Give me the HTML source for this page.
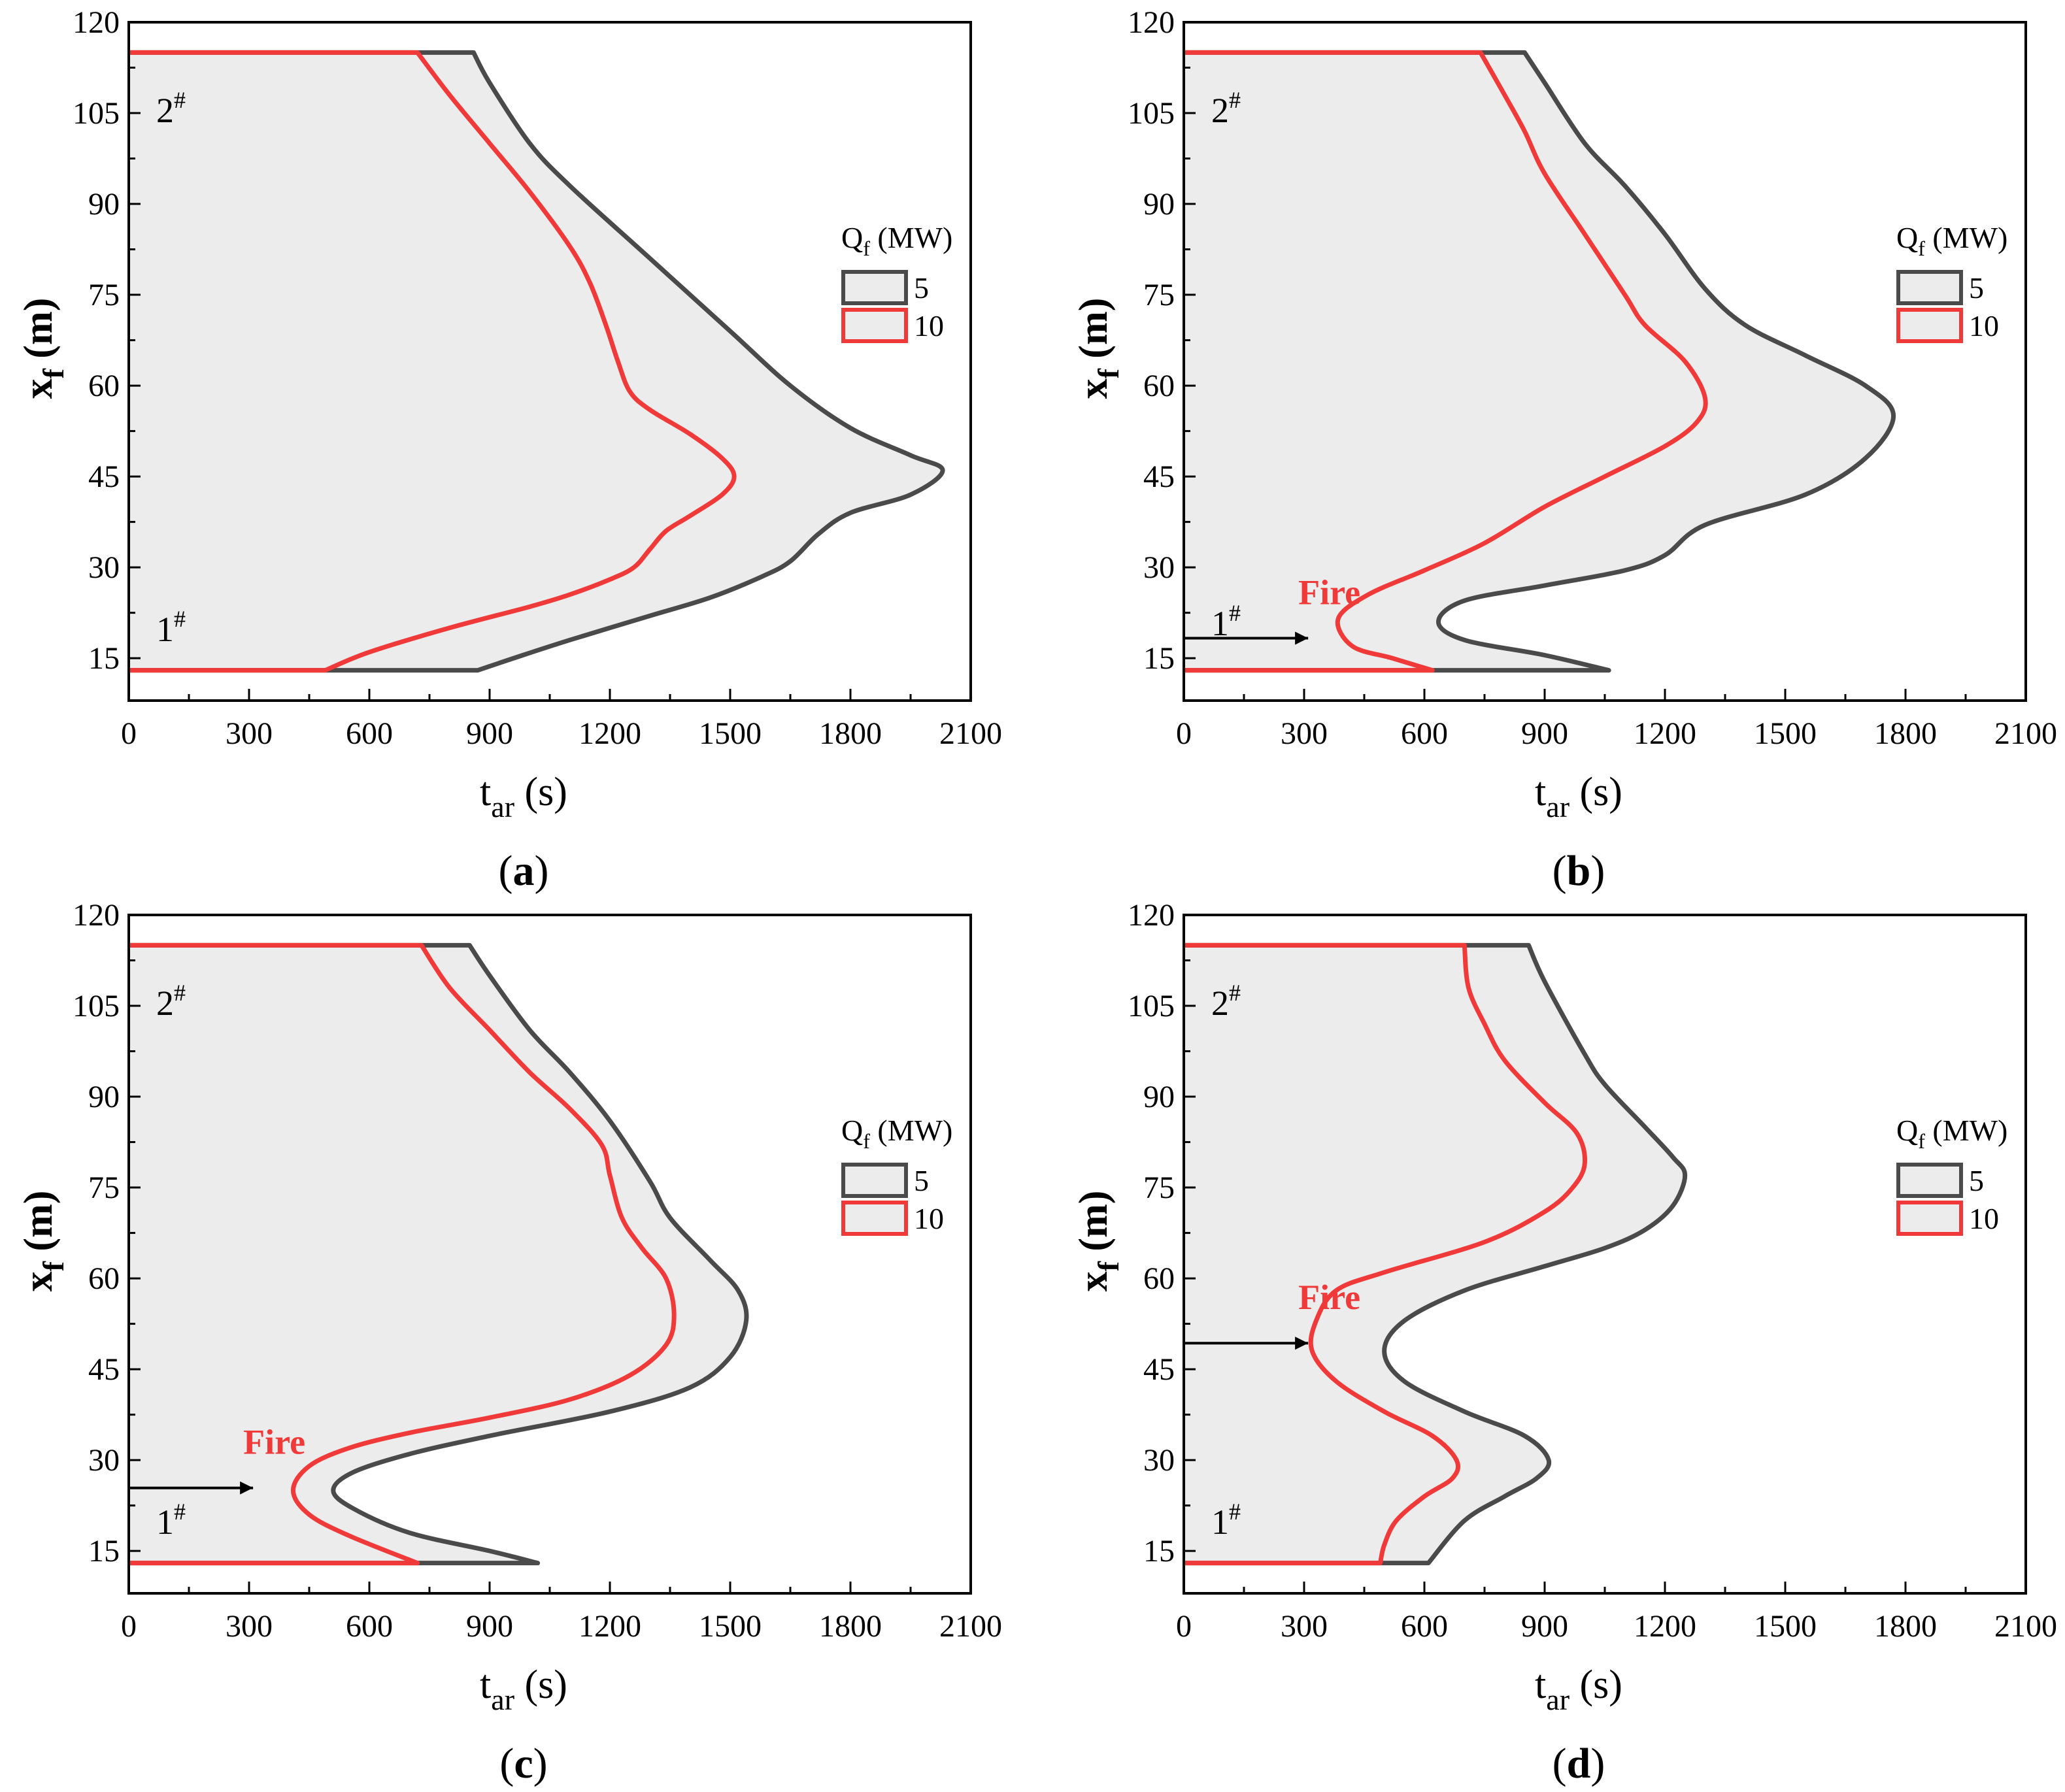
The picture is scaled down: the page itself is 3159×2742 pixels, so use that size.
<!DOCTYPE html>
<html><head><meta charset="utf-8"><style>
html,body{margin:0;padding:0;background:#fff}
svg{display:block}
</style></head><body>
<svg id="fig" width="3159" height="2742" viewBox="0 0 3159 2742" xmlns="http://www.w3.org/2000/svg" font-family="'Liberation Serif', 'DejaVu Serif', serif">
</svg>
<script>
// ---- data ----
const xTicks=[0,300,600,900,1200,1500,1800,2100];
const yTicks=[15,30,45,60,75,90,105,120];
const panelLabels=["a","b","c","d"];
const seriesLabels=["5","10"];
const a5=[[0,115],[860,115],[900,110],[1000,100],[1100,93],[1300,81],[1500,69],[1650,60],[1800,53],[1950,48.5],[2030,46],[1950,42],[1800,39],[1720,35.5],[1650,31],[1580,28.5],[1450,25],[1300,22],[1100,18],[960,15],[870,13],[0,13]];
const a10=[[0,115],[720,115],[800,108],[900,100],[1000,92],[1100,83],[1150,77],[1190,70],[1220,64],[1250,59],[1300,56],[1400,52],[1480,48],[1510,45],[1480,42],[1400,38.5],[1340,36],[1300,33],[1260,30],[1200,28],[1100,25.5],[1000,23.5],[800,20],[600,16],[490,13],[0,13]];
const b5=[[0,115],[850,115],[900,110],[1000,100],[1100,93],[1200,85],[1300,76],[1400,70],[1550,65],[1700,60],[1770,55],[1700,48],[1550,42],[1300,37],[1200,32],[1100,29.5],[900,27],[700,24.5],[635,21],[700,18],[900,15.5],[1060,13],[0,13]];
const b10=[[0,115],[740,115],[800,108],[850,102],[900,95],[1000,85],[1100,75],[1150,70],[1250,64],[1300,58],[1280,54],[1200,50],[1050,45],[900,40],[750,34],[600,29.5],[460,25.5],[385,21.5],[420,17],[520,15],[620,13],[0,13]];
const c5=[[0,115],[850,115],[900,110],[1000,101],[1100,94],[1200,86],[1300,76],[1350,70],[1450,63],[1520,58],[1540,53],[1500,47],[1400,42],[1200,38],[900,34],[700,31],[560,28],[510,25],[560,22],[700,18],[900,15],[1020,13],[0,13]];
const c10=[[0,115],[730,115],[800,108],[900,101],[1000,94],[1100,88],[1180,82],[1200,77],[1230,70],[1280,65],[1340,60],[1360,54],[1340,49],[1250,44],[1100,40],[900,37],[700,34.5],[550,32],[450,29],[410,25],[450,21],[550,17.5],[720,13],[0,13]];
const d5=[[0,115],[860,115],[900,109],[1000,97],[1050,92],[1150,85],[1220,80],[1250,77],[1220,72],[1150,68],[1050,65],[900,62],[700,58],[550,53],[500,48],[550,43],[700,38],[850,34],[910,30],[880,27],[800,24],[700,20],[610,13],[0,13]];
const d10=[[0,115],[700,115],[710,108],[750,102],[800,96],[900,89],[980,84],[1000,79],[970,75],[900,71],[750,66],[500,61],[380,58],[330,53],[320,48],[380,43],[500,38],[620,34],[680,30],[670,27],[600,24],[530,20],[500,16],[490,13],[0,13]];
const fireArrowX=[null,18.3,25.4,49.3];
const arrowEndT=[null,310,310,310];
const origins=[[197,34],[1811,34],[197,1400],[1811,1400]];
const allSeries=[[a5,a10],[b5,b10],[c5,c10],[d5,d10]];

const NS="http://www.w3.org/2000/svg";
const svg=document.getElementById('fig');
const FONT="'Liberation Serif', 'DejaVu Serif', serif";
function mk(tag,attrs,parent){const e=document.createElementNS(NS,tag);for(const k in attrs)e.setAttribute(k,attrs[k]);if(tag==='text')e.setAttribute('font-family',FONT);(parent||svg).appendChild(e);return e;}
const W=1288,H=1038,XMAX=2100,YMIN=8,YMAX=120;
function smoothPath(pts,sx,sy){
  const P=pts.map(p=>[sx(p[0]),sy(p[1])]);
  let d=`M${P[0][0]},${P[0][1]} L${P[1][0]},${P[1][1]}`;
  const n=P.length;
  for(let i=1;i<n-2;i++){
    const p0=P[Math.max(i-1,1)],p1=P[i],p2=P[i+1],p3=P[Math.min(i+2,n-2)];
    const c1=[p1[0]+(p2[0]-p0[0])/6,p1[1]+(p2[1]-p0[1])/6];
    const c2=[p2[0]-(p3[0]-p1[0])/6,p2[1]-(p3[1]-p1[1])/6];
    d+=` C${c1[0]},${c1[1]} ${c2[0]},${c2[1]} ${p2[0]},${p2[1]}`;
  }
  d+=` L${P[n-1][0]},${P[n-1][1]}`;
  return d;
}
mk('defs',{}).innerHTML='<marker id="ah" viewBox="0 0 10 10" refX="10" refY="5" markerWidth="9" markerHeight="5" orient="auto"><path d="M0,0 L10,5 L0,10 z" fill="#000"/></marker>';

for(let p=0;p<4;p++){
  const [ox,oy]=origins[p];
  const sx=t=>ox+t/XMAX*W, sy=v=>oy+(YMAX-v)/(YMAX-YMIN)*H;
  const g=mk('g',{});
  
  
  const [s5,s10]=allSeries[p];
  const fill=mk('path',{d:smoothPath(s5,sx,sy)+' Z',fill:'#ececec',stroke:'none'},g);
  
  
  const l5=mk('path',{d:smoothPath(s5,sx,sy),fill:'none',stroke:'#4a4a4a','stroke-width':7,'stroke-linejoin':'round'},g);
  
  
  const l10=mk('path',{d:smoothPath(s10,sx,sy),fill:'none',stroke:'#f03a3a','stroke-width':7,'stroke-linejoin':'round'},g);
  
  
  const fr=mk('rect',{x:ox,y:oy,width:W,height:H,fill:'none',stroke:'#000','stroke-width':4},g);
  
  
  for(let t=0;t<=XMAX;t+=150){
    const major=t%300===0;
    mk('line',{x1:sx(t),x2:sx(t),y1:oy+H,y2:oy+H-(major?18:10),stroke:'#000','stroke-width':3},g);
  }
  xTicks.forEach(t=>{const e=mk('text',{x:sx(t),y:oy+H+66,'font-size':48,'text-anchor':'middle'},g);e.textContent=t;
    });
  for(let v=15;v<=YMAX;v+=7.5){
    const major=v%15===0;
    mk('line',{x1:ox,x2:ox+(major?18:10),y1:sy(v),y2:sy(v),stroke:'#000','stroke-width':3},g);
  }
  yTicks.forEach(v=>{const e=mk('text',{x:ox-14,y:sy(v)+16,'font-size':48,'text-anchor':'end'},g);e.textContent=v;
    });
  const xt=mk('text',{x:ox+W/2-40,y:oy+H+160,'font-size':62,'text-anchor':'middle'},g);
  xt.innerHTML='t<tspan font-size="46" dy="18">ar</tspan><tspan dy="-18"> (s)</tspan>';
  
  const yt=mk('text',{x:0,y:0,'font-size':62,'text-anchor':'middle','font-weight':'bold',transform:`translate(${ox-118},${oy+H/2-20}) rotate(-90)`},g);
  yt.innerHTML='x<tspan font-size="46" dy="18">f</tspan><tspan dy="-18"> (m)</tspan>';
  
  const pl=mk('text',{x:ox+W/2-40,y:oy+H+282,'font-size':66,'text-anchor':'middle'},g);
  pl.innerHTML='(<tspan font-weight="bold">'+panelLabels[p]+'</tspan>)';
  
  const e2=mk('text',{x:ox+42,y:sy(103.5),'font-size':54},g);e2.innerHTML='2<tspan font-size="36" dy="-22">#</tspan>';
  
  const e1=mk('text',{x:ox+42,y:sy(p===1?18.8:17.8),'font-size':54},g);
  e1.innerHTML='1<tspan font-size="36" dy="-22">#</tspan>';
  
  const lx=ox+1093, ly=oy+345;
  const lt=mk('text',{x:lx-3,y:ly,'font-size':46},g);lt.innerHTML='Q<tspan font-size="32" dy="12">f</tspan><tspan dy="-12"> (MW)</tspan>';
  
  const cols=['#4a4a4a','#f03a3a'];
  for(let i=0;i<2;i++){
    const r=mk('rect',{x:lx,y:ly+37+i*58,width:96,height:48,fill:'#ececec',stroke:cols[i],'stroke-width':6},g);
    
    const tx=mk('text',{x:lx+108,y:ly+77+i*58,'font-size':46},g);tx.textContent=seriesLabels[i];
    
  }
  if(fireArrowX[p]!==null){
    const ar=mk('line',{x1:ox,y1:sy(fireArrowX[p]),x2:sx(arrowEndT[p]),y2:sy(fireArrowX[p]),stroke:'#000','stroke-width':4,'marker-end':'url(#ah)'},g);
    
    const ft=mk('text',{x:sx(arrowEndT[p])-15,y:sy(fireArrowX[p])-52,'font-size':54,'font-weight':'bold',fill:'#f03a3a'},g);
    ft.textContent='Fire';
    
  }
}
</script>
</body></html>
